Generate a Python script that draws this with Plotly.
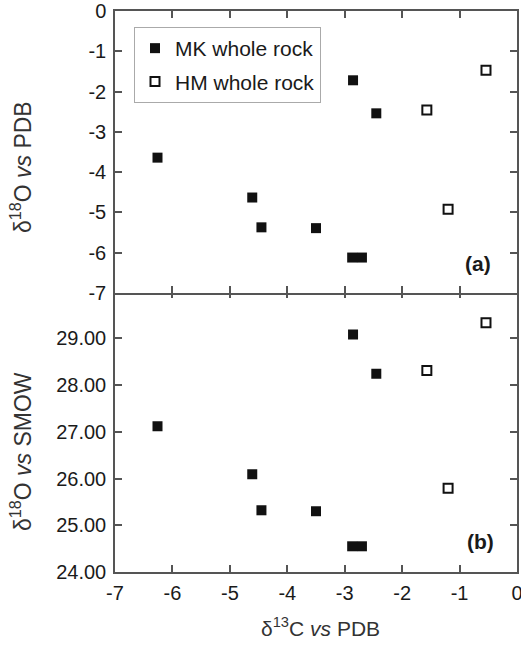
import plotly.graph_objects as go

# delta13C (PDB) for each sample
mk_c13 = [-6.26, -4.61, -4.45, -3.50, -2.87, -2.70, -2.855, -2.45]
hm_c13 = [-1.57, -0.54, -1.20]
# delta18O (PDB) panel (a)
mk_o18_pdb = [-3.64, -4.63, -5.37, -5.39, -6.12, -6.12, -1.72, -2.54]
hm_o18_pdb = [-2.46, -1.47, -4.92]
# delta18O (SMOW) panel (b)
mk_o18_smow = [27.12, 26.09, 25.32, 25.30, 24.55, 24.55, 29.08, 28.24]
hm_o18_smow = [28.31, 29.33, 25.79]

x_ticks = [-7, -6, -5, -4, -3, -2, -1, 0]
pdb_ticks = [-7, -6, -5, -4, -3, -2, -1, 0]
smow_ticks = [24, 25, 26, 27, 28, 29]

FONT = "Liberation Sans, Arial, sans-serif"
LINE = "#555555"
TXT = "#1a1a1a"

W, H = 521, 645
ML, MR, MT, MB = 115, 4, 11, 73
PW, PH = W - ML - MR, H - MT - MB


def px(xp):
    return (xp - ML) / PW


def py(yp):
    return (H - MB - yp) / PH


fig = go.Figure()

# panel (a)
fig.add_trace(go.Scatter(x=mk_c13, y=mk_o18_pdb, mode="markers", name="MK whole rock",
                         legendgroup="mk", xaxis="x2", yaxis="y2",
                         marker=dict(symbol="square", size=10, color="#111111")))
fig.add_trace(go.Scatter(x=hm_c13, y=hm_o18_pdb, mode="markers", name="HM whole rock",
                         legendgroup="hm", xaxis="x2", yaxis="y2",
                         marker=dict(symbol="square-open", size=9, color="#111111",
                                     line=dict(width=2, color="#111111"))))
# panel (b)
fig.add_trace(go.Scatter(x=mk_c13, y=mk_o18_smow, mode="markers", showlegend=False,
                         xaxis="x", yaxis="y",
                         marker=dict(symbol="square", size=10, color="#111111")))
fig.add_trace(go.Scatter(x=hm_c13, y=hm_o18_smow, mode="markers", showlegend=False,
                         xaxis="x", yaxis="y",
                         marker=dict(symbol="square-open", size=9, color="#111111",
                                     line=dict(width=2, color="#111111"))))

axis_common = dict(showline=True, linecolor=LINE, linewidth=1.5, mirror="ticks",
                   ticks="inside", ticklen=7, tickwidth=1.5, tickcolor=LINE,
                   showgrid=False, zeroline=False, automargin=False,
                   ticklabeloverflow="allow",
                   tickfont=dict(family=FONT, size=20, color=TXT))

split = 0.5
fig.update_layout(
    width=W, height=H,
    margin=dict(l=ML, r=MR, t=MT, b=MB),
    paper_bgcolor="white", plot_bgcolor="white",
    font=dict(family=FONT, color=TXT),
    xaxis=dict(domain=[0, 1], anchor="y", range=[-7, 0], tickvals=x_ticks,
               ticktext=[str(v) for v in x_ticks], ticklabelstandoff=2, **axis_common),
    yaxis=dict(domain=[0, split], anchor="x", range=[24, 30], tickvals=smow_ticks,
               ticktext=["%.2f" % v for v in smow_ticks], ticklabelstandoff=3, **axis_common),
    xaxis2=dict(domain=[0, 1], anchor="y2", range=[-7, 0], tickvals=x_ticks,
                showticklabels=False, matches="x", **axis_common),
    yaxis2=dict(domain=[split - 1.5 / PH, 1], anchor="x2", range=[-7, 0], tickvals=pdb_ticks,
                ticktext=[str(v) for v in pdb_ticks], ticklabelstandoff=3, **axis_common),
    legend=dict(x=px(134), y=py(27), xanchor="left", yanchor="top",
                bgcolor="white", bordercolor="#aaaaaa", borderwidth=1,
                font=dict(family=FONT, size=21, color=TXT),
                traceorder="grouped", tracegroupgap=3),
    showlegend=True,
)

fig.add_annotation(xref="paper", yref="paper", x=px(478), y=py(263), text="<b>(a)</b>",
                   xanchor="center", yanchor="middle",
                   showarrow=False, font=dict(family=FONT, size=21, color=TXT))
fig.add_annotation(xref="paper", yref="paper", x=px(480), y=py(541), text="<b>(b)</b>",
                   xanchor="center", yanchor="middle",
                   showarrow=False, font=dict(family=FONT, size=21, color=TXT))

# axis titles
title_font = dict(family=FONT, size=21, color="#333333")
vtitle_font = dict(family=FONT, size=23, color="#333333")
fig.add_annotation(xref="paper", yref="paper", x=px(320), y=py(627),
                   xanchor="center", yanchor="middle",
                   text="\u03b4<sup>13</sup>C <i>vs</i> PDB", showarrow=False, font=title_font)
fig.add_annotation(xref="paper", yref="paper", x=px(21), y=py(167),
                   xanchor="center", yanchor="middle",
                   text="\u03b4<sup>18</sup>O <i>vs</i> PDB", textangle=-90,
                   showarrow=False, font=vtitle_font)
fig.add_annotation(xref="paper", yref="paper", x=px(21), y=py(452),
                   xanchor="center", yanchor="middle",
                   text="\u03b4<sup>18</sup>O <i>vs</i> SMOW", textangle=-90,
                   showarrow=False, font=vtitle_font)

fig.write_html("out.html", config={"displayModeBar": False},
               post_script="document.body.style.margin='0';document.body.style.overflow='hidden';")
